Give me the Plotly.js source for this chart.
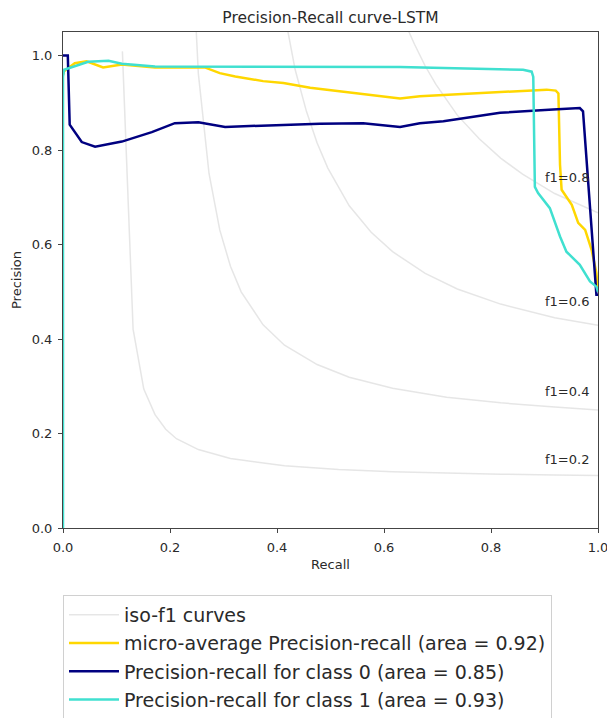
<!DOCTYPE html>
<html>
<head>
<meta charset="utf-8">
<script src="https://cdn.plot.ly/plotly-3.0.1.min.js"></script>
<style>html,body{margin:0;padding:0;background:#fff;}#chart{width:607px;height:718px;}</style>
</head>
<body>
<div id="chart"></div>
<script>
// ---- Data ----
// iso-f1 guide curves (recall, precision) points
const isoF1Values = [0.2, 0.4, 0.6, 0.8];
const iso02_recall = [0.111, 0.131, 0.151, 0.172, 0.192, 0.212, 0.253, 0.313, 0.414, 0.515, 0.616, 0.717, 0.818, 0.919, 1.0];
const iso02_prec   = [1.009, 0.421, 0.294, 0.240, 0.209, 0.189, 0.166, 0.147, 0.132, 0.124, 0.119, 0.116, 0.114, 0.112, 0.111];
const iso04_recall = [0.212, 0.232, 0.253, 0.273, 0.293, 0.313, 0.333, 0.374, 0.414, 0.475, 0.535, 0.616, 0.717, 0.818, 0.919, 1.0];
const iso04_prec   = [3.533, 1.442, 0.962, 0.750, 0.631, 0.554, 0.500, 0.430, 0.387, 0.346, 0.319, 0.296, 0.277, 0.265, 0.256, 0.250];
const iso06_recall = [0.333, 0.354, 0.374, 0.394, 0.414, 0.434, 0.455, 0.475, 0.495, 0.535, 0.576, 0.616, 0.677, 0.737, 0.818, 0.919, 1.0];
const iso06_prec   = [3.000, 1.981, 1.521, 1.258, 1.089, 0.970, 0.882, 0.815, 0.762, 0.682, 0.626, 0.585, 0.539, 0.506, 0.474, 0.445, 0.429];
const iso08_recall = [0.434, 0.455, 0.475, 0.495, 0.515, 0.535, 0.556, 0.576, 0.596, 0.616, 0.636, 0.657, 0.677, 0.697, 0.737, 0.778, 0.818, 0.859, 0.919, 1.0];
const iso08_prec   = [5.058, 3.333, 2.541, 2.085, 1.790, 1.582, 1.429, 1.310, 1.217, 1.140, 1.077, 1.024, 0.978, 0.939, 0.874, 0.824, 0.783, 0.749, 0.708, 0.667];
const isoLabelRecall = 0.9;
const isoLabelPrec = [0.132, 0.276, 0.465, 0.728];

// micro-average
const micro_recall = [0.0, 0.002, 0.022, 0.044, 0.075, 0.110, 0.172, 0.265, 0.293, 0.322, 0.374, 0.412, 0.462, 0.543, 0.630, 0.667, 0.754, 0.870, 0.904, 0.921, 0.926, 0.929, 0.932, 0.951, 0.963, 0.976, 0.988, 0.997, 1.0];
const micro_prec   = [0.960, 0.967, 0.984, 0.988, 0.975, 0.981, 0.975, 0.975, 0.963, 0.956, 0.946, 0.942, 0.932, 0.921, 0.909, 0.914, 0.919, 0.927, 0.928, 0.926, 0.920, 0.769, 0.716, 0.684, 0.646, 0.631, 0.589, 0.540, 0.500];

// class 0
const c0_recall = [0.0, 0.002, 0.009, 0.0125, 0.035, 0.060, 0.110, 0.166, 0.209, 0.253, 0.293, 0.303, 0.480, 0.561, 0.630, 0.667, 0.711, 0.817, 0.916, 0.966, 0.972, 0.976, 0.982, 0.997, 1.0];
const c0_prec   = [1.0, 1.0, 1.0, 0.854, 0.817, 0.807, 0.818, 0.838, 0.857, 0.859, 0.850, 0.849, 0.856, 0.857, 0.849, 0.857, 0.861, 0.879, 0.886, 0.889, 0.882, 0.822, 0.720, 0.494, 0.494];

// class 1
const c1_recall = [0.0, 0.0, 0.002, 0.047, 0.085, 0.110, 0.172, 0.320, 0.630, 0.860, 0.876, 0.879, 0.882, 0.882, 0.888, 0.910, 0.929, 0.941, 0.966, 0.985, 0.997, 1.0];
const c1_prec   = [0.0, 0.955, 0.970, 0.987, 0.989, 0.983, 0.977, 0.977, 0.976, 0.970, 0.966, 0.955, 0.769, 0.722, 0.709, 0.677, 0.617, 0.585, 0.557, 0.522, 0.511, 0.500];

const legendNames = [
  'iso-f1 curves',
  'micro-average Precision-recall (area = 0.92)',
  'Precision-recall for class 0 (area = 0.85)',
  'Precision-recall for class 1 (area = 0.93)'
];
const titleText = 'Precision-Recall curve-LSTM';
const xTitle = 'Recall';
const yTitle = 'Precision';
const tickVals = [0, 0.2, 0.4, 0.6, 0.8, 1.0];

// ---- Build traces ----
const isoColor = 'rgba(128,128,128,0.2)';
const isoSets = [[iso02_recall, iso02_prec], [iso04_recall, iso04_prec], [iso06_recall, iso06_prec], [iso08_recall, iso08_prec]];
const traces = [];
isoSets.forEach((s, i) => {
  traces.push({
    x: s[0], y: s[1], mode: 'lines', type: 'scatter',
    line: {color: isoColor, width: 1.5},
    name: legendNames[0], legendgroup: 'iso', showlegend: i === 0,
    hoverinfo: 'skip'
  });
});
traces.push({x: micro_recall, y: micro_prec, mode: 'lines', type: 'scatter',
  line: {color: '#FFD700', width: 2.5}, name: legendNames[1], legendgroup: 'micro'});
traces.push({x: c0_recall, y: c0_prec, mode: 'lines', type: 'scatter',
  line: {color: '#000080', width: 2.5}, name: legendNames[2], legendgroup: 'c0'});
traces.push({x: c1_recall, y: c1_prec, mode: 'lines', type: 'scatter',
  line: {color: '#40E0D0', width: 2.5}, name: legendNames[3], legendgroup: 'c1'});

const annotations = isoF1Values.map((f, i) => ({
  x: isoLabelRecall, y: isoLabelPrec[i], xref: 'x', yref: 'y',
  text: 'f1=' + f.toFixed(1), showarrow: false,
  xanchor: 'left', yanchor: 'bottom', yshift: -3, xshift: -2,
  font: {family: 'DejaVu Sans', size: 13, color: '#2a2a2a'}
}));

const layout = {
  width: 607, height: 718,
  margin: {l: 63, r: 9, t: 32, b: 190, autoexpand: false},
  paper_bgcolor: '#ffffff', plot_bgcolor: '#ffffff',
  font: {family: 'DejaVu Sans', size: 12, color: '#333'},
  title: {text: titleText, x: 0.5, xref: 'paper', y: 1 - 18/718, yref: 'container', yanchor: 'middle',
    font: {family: 'DejaVu Sans', size: 15.5, color: '#2a2a2a'}},
  xaxis: {range: [0, 1], tickvals: tickVals, tickformat: '.1f', showgrid: false, zeroline: false,
    showline: true, mirror: true, linecolor: '#444', linewidth: 1, ticks: 'outside', ticklen: 4, tickcolor: '#444',
    ticklabelstandoff: 3, ticklabeloverflow: 'allow',
    tickfont: {family: 'DejaVu Sans', size: 13, color: '#2a2a2a'},
    title: {text: xTitle, standoff: 6, font: {family: 'DejaVu Sans', size: 13, color: '#2a2a2a'}}, automargin: false},
  yaxis: {range: [0, 1.05], tickvals: tickVals, tickformat: '.1f', showgrid: false, zeroline: false,
    showline: true, mirror: true, linecolor: '#444', linewidth: 1, ticks: 'outside', ticklen: 4, tickcolor: '#444',
    ticklabelstandoff: 3, ticklabeloverflow: 'allow',
    tickfont: {family: 'DejaVu Sans', size: 13, color: '#2a2a2a'},
    title: {text: yTitle, standoff: 7, font: {family: 'DejaVu Sans', size: 13, color: '#2a2a2a'}}, automargin: false},
  showlegend: true,
  legend: {x: 0, xref: 'paper', xanchor: 'left', y: -(595-528)/496, yanchor: 'top',
    orientation: 'v', bgcolor: 'rgba(255,255,255,0.9)', bordercolor: '#d0d0d0', borderwidth: 1,
    tracegroupgap: 0.5, itemwidth: 50,
    font: {family: 'DejaVu Sans', size: 19, color: '#2a2a2a'}},
  annotations: annotations
};

Plotly.newPlot('chart', traces, layout, {staticPlot: true, displayModeBar: false});
</script>
</body>
</html>
